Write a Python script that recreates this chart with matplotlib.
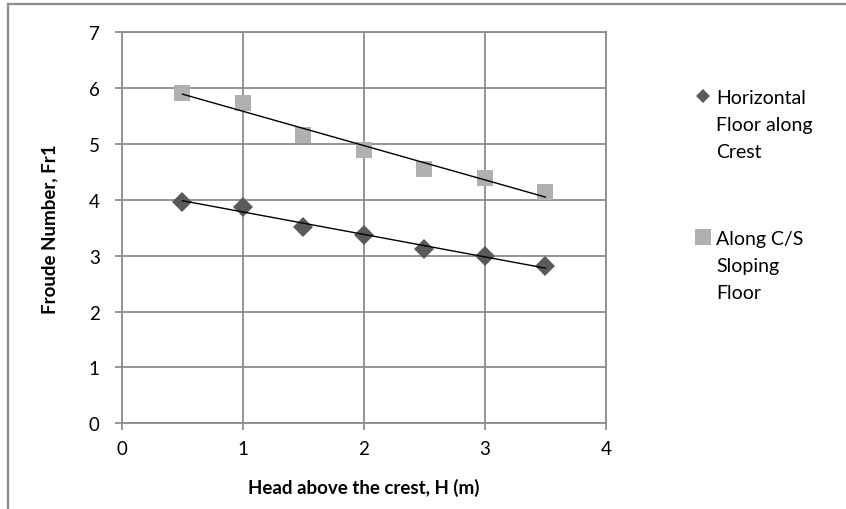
import numpy as np
import matplotlib
matplotlib.use("Agg")
import matplotlib.pyplot as plt
from matplotlib.lines import Line2D

plt.rcParams['font.family'] = ['Lato', 'DejaVu Sans']

head = [0.5, 1.0, 1.5, 2.0, 2.5, 3.0, 3.5]
fr_horizontal = [3.97, 3.88, 3.52, 3.37, 3.12, 2.99, 2.82]
fr_sloping = [5.92, 5.73, 5.16, 4.90, 4.55, 4.39, 4.15]
label_horizontal = "Horizontal\nFloor along\nCrest"
label_sloping = "Along C/S\nSloping\nFloor"
x_ticks = [0, 1, 2, 3, 4]
y_ticks = [0, 1, 2, 3, 4, 5, 6, 7]

dark = '#5a5a5a'
light = '#b0b0b0'
grid_c = '#8c8c8c'

fig = plt.figure(figsize=(8.46, 5.10), dpi=100)
ax = fig.add_axes([0.1442, 0.168, 0.5721, 0.7667])

ax.set_xlim(0, 4)
ax.set_ylim(0, 7)
ax.set_xticks(x_ticks)
ax.set_yticks(y_ticks)
ax.grid(True, color=grid_c, linewidth=1.3)
ax.set_axisbelow(True)
for s in ['left', 'bottom', 'right', 'top']:
    ax.spines[s].set_color(grid_c)
    ax.spines[s].set_linewidth(1.3)
ax.tick_params(axis='both', color=grid_c, width=1.3, length=5, labelsize=13.5)
ax.tick_params(axis='y', pad=11)
ax.tick_params(axis='x', pad=7)

h = np.array(head)
for ys, col, mk, ms in [(fr_horizontal, dark, 'D', 10.5), (fr_sloping, light, 's', 12)]:
    ax.plot(h, ys, linestyle='none', marker=mk, markersize=ms, color=col,
            markeredgewidth=0, zorder=3)
    c = np.polyfit(h, ys, 1)
    ax.plot(h[[0, -1]], np.polyval(c, h[[0, -1]]), color='black', linewidth=1.0, zorder=4)

ax.set_xlabel("Head above the crest, H (m)", fontsize=13.5, fontweight='bold', labelpad=15)
ax.set_ylabel("Froude Number, Fr1", fontsize=13.5, fontweight='bold', labelpad=22)

# legend (manual, Excel-style)
fig.add_artist(Line2D([703/846], [1 - 97/510], transform=fig.transFigure, marker='D',
                      markersize=7.5, color=dark, markeredgewidth=0))
fig.text(716/846, 1 - 90/510, label_horizontal, fontsize=14, va='top', ha='left',
         linespacing=1.72)
fig.add_artist(Line2D([703/846], [1 - 238/510], transform=fig.transFigure, marker='s',
                      markersize=11, color=light, markeredgewidth=0))
fig.text(716/846, 1 - 231/510, label_sloping, fontsize=14, va='top', ha='left',
         linespacing=1.72)

# chart frame (top and left)
fig.add_artist(Line2D([0.0095, 1.0], [0.990, 0.990], transform=fig.transFigure,
                      color=grid_c, linewidth=1.6))
fig.add_artist(Line2D([0.0095, 0.0095], [0.0, 0.990], transform=fig.transFigure,
                      color=grid_c, linewidth=1.6))

fig.savefig("out.png", dpi=100)
